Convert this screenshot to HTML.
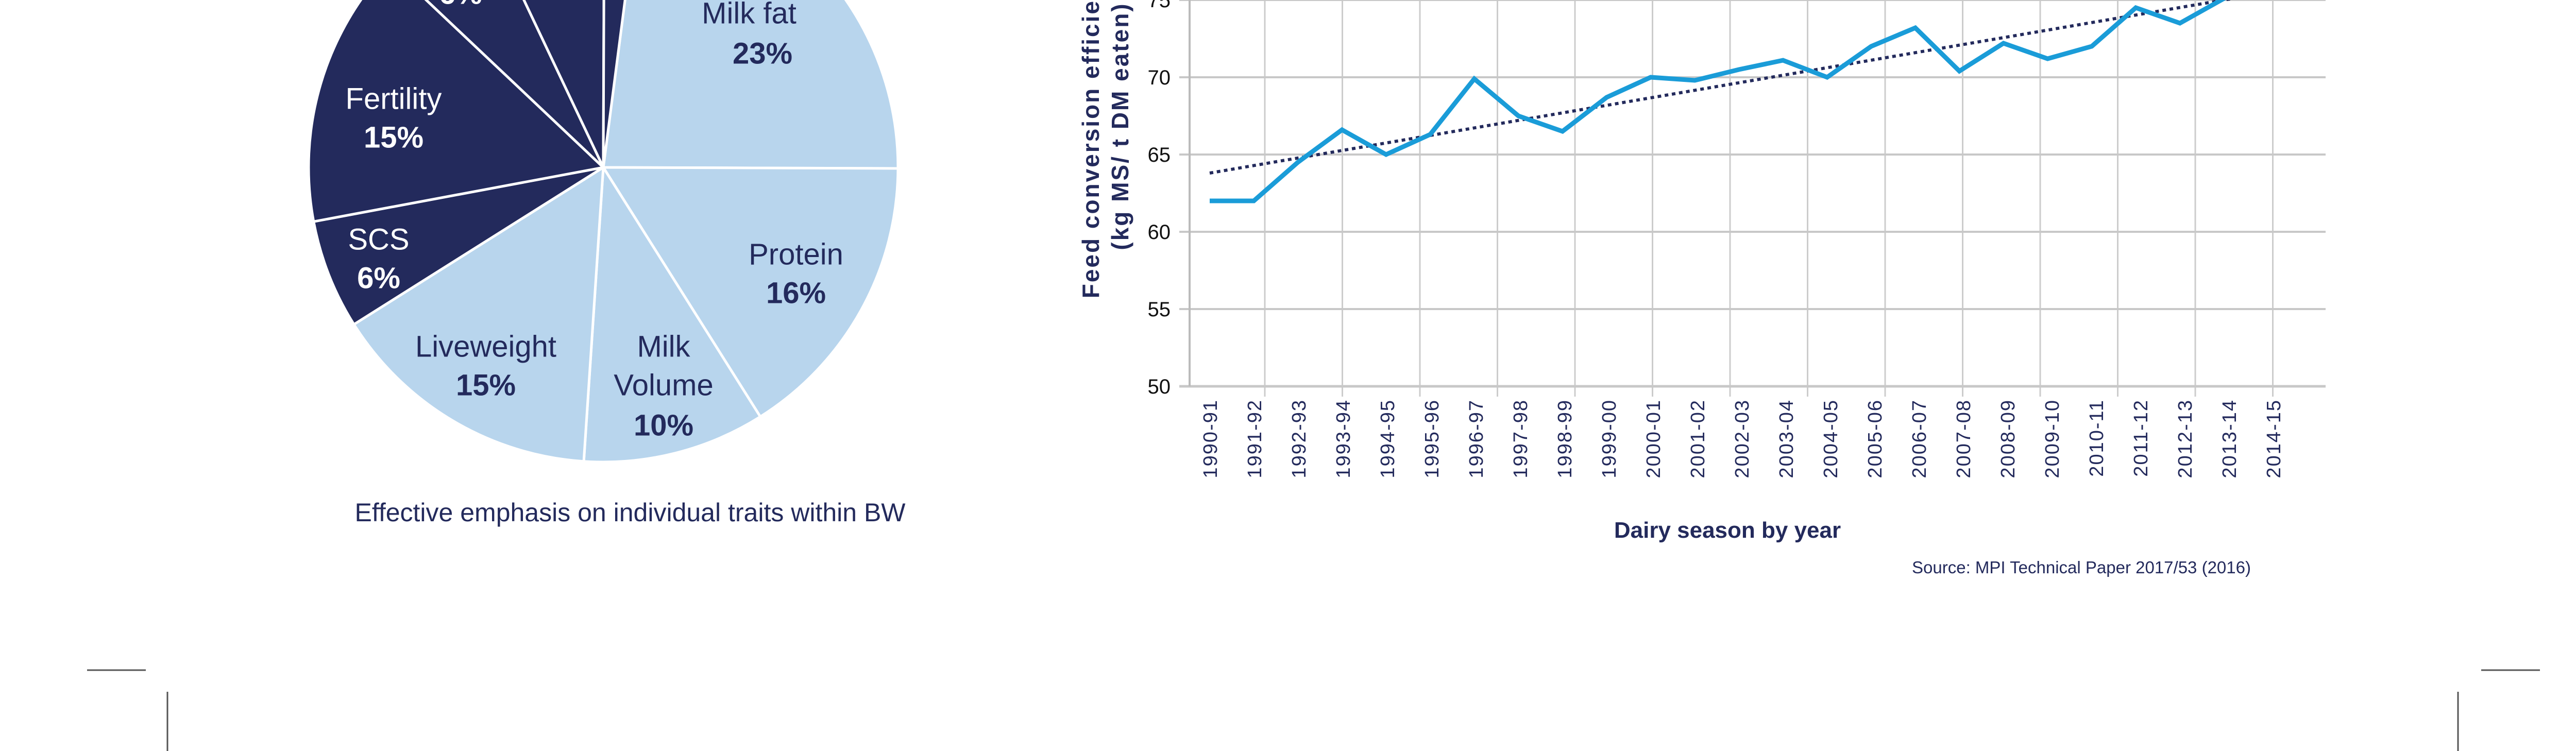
<!DOCTYPE html>
<html><head><meta charset="utf-8"><style>
html,body{margin:0;padding:0;background:#fff}
svg{display:block;font-family:"Liberation Sans",sans-serif}
</style></head><body>
<svg id="root" width="5099" height="1458" viewBox="0 0 5099 1458" xmlns="http://www.w3.org/2000/svg">
<g id="pie"></g>
<text x="1223" y="1012" font-size="50" fill="#232a5c" text-anchor="middle">Effective emphasis on individual traits within BW</text>
<g id="chart"></g>
<g stroke="#555" stroke-width="3">
<line x1="169" y1="1301" x2="283" y2="1301"/>
<line x1="4816" y1="1301" x2="4930" y2="1301"/>
<line x1="325" y1="1343" x2="325" y2="1458"/>
<line x1="4771" y1="1343" x2="4771" y2="1458"/>
</g>
</svg>
<script>
const NS="http://www.w3.org/2000/svg";
// pie data
const sliceNames=["Milk fat","Protein","Milk Volume","Liveweight","SCS","Fertility","Other A","Other B","Other C"];
const sliceValues=[23,16,10,15,6,15,5.9,7.1,2];
const sliceDark=[false,false,false,false,true,true,true,true,true];
// line chart data
const seasons=["1990-91","1991-92","1992-93","1993-94","1994-95","1995-96","1996-97","1997-98","1998-99","1999-00","2000-01","2001-02","2002-03","2003-04","2004-05","2005-06","2006-07","2007-08","2008-09","2009-10","2010-11","2011-12","2012-13","2013-14","2014-15"];
const fce=[62,62,64.5,66.6,65,66.3,69.9,67.5,66.5,68.7,70,69.8,70.5,71.1,70,72,73.2,70.4,72.2,71.2,72,74.5,73.5,75.1,77];
const yTicks=[50,55,60,65,70,75];
const trendStart=63.8, trendSlope=0.487;

function el(tag,attrs,parent){const e=document.createElementNS(NS,tag);for(const k in attrs)e.setAttribute(k,attrs[k]);parent.appendChild(e);return e;}

// PIE
const pie=document.getElementById('pie');
const cx=1171,cy=325,R=572;
const startAngle=7.4;
const total=sliceValues.reduce((a,b)=>a+b,0);
let a=startAngle;
function pt(deg,r){const t=deg*Math.PI/180;return [cx+r*Math.sin(t),cy-r*Math.cos(t)];}
sliceValues.forEach((v,i)=>{
  const a2=a+v/total*360;
  const p1=pt(a,R),p2=pt(a2,R);
  const large=(a2-a)>180?1:0;
  const p=el('path',{d:`M${cx},${cy} L${p1[0]},${p1[1]} A${R},${R} 0 ${large} 1 ${p2[0]},${p2[1]} Z`,fill:sliceDark[i]?'#232a5c':'#b8d5ed',stroke:'#fff','stroke-width':5},pie);
  
  
  a=a2;
});
const pieLabels=[
 ["Milk fat",1454,26,false,"#232a5c"],["23%",1480,104,true,"#232a5c"],
 ["Protein",1545,494,false,"#232a5c"],["16%",1545,569,true,"#232a5c"],
 ["Milk",1288,673,false,"#232a5c"],["Volume",1288,748,false,"#232a5c"],["10%",1288,826,true,"#232a5c"],
 ["Liveweight",943,673,false,"#232a5c"],["15%",943,748,true,"#232a5c"],
 ["SCS",735,465,false,"#fff"],["6%",735,540,true,"#fff"],
 ["Fertility",764,192,false,"#fff"],["15%",764,267,true,"#fff"],
 ["6%",894,-12,true,"#fff"]];
pieLabels.forEach(l=>{
  const t=el('text',{x:l[1],y:l[2],'font-size':58,'text-anchor':'middle','dominant-baseline':'central',fill:l[4],'font-weight':l[3]?'bold':'normal'},pie);
  t.textContent=l[0];
  
  
});

// LINE CHART
const chart=document.getElementById('chart');
const X0=2309,X1=4514,x0=2348,step=85.6;
function xs(i){return x0+i*step;}
function ys(v){return 150+(70-v)*30;}
const clip=el('clipPath',{id:'pc'},chart);
el('rect',{x:X0,y:0,width:X1-X0,height:760},clip);
// vertical grid
for(let gx=X0+146;gx<=X1;gx+=150.5){
  const g=el('line',{x1:gx,y1:0,x2:gx,y2:ys(50)+20,stroke:'#ccc','stroke-width':3},chart);
  
  
}
yTicks.forEach(v=>{
  const g=el('line',{x1:X0-20,y1:ys(v),x2:X1,y2:ys(v),stroke:'#c8c8c8','stroke-width':v===50?5:4},chart);
  
  
  const t=el('text',{x:2272,y:ys(v)+14,'font-size':40,'text-anchor':'end',fill:'#111'},chart);
  t.textContent=v;
  
  
});
el('line',{x1:X0,y1:0,x2:X0,y2:ys(50),stroke:'#bbb','stroke-width':4},chart);
// trend
const tr=el('line',{x1:xs(0),y1:ys(trendStart),x2:xs(seasons.length-1),y2:ys(trendStart+trendSlope*(seasons.length-1)),stroke:'#232a5c','stroke-width':6,'stroke-dasharray':'7 7','clip-path':'url(#pc)'},chart);


// series
const ln=el('polyline',{points:fce.map((v,i)=>xs(i)+','+ys(v)).join(' '),fill:'none',stroke:'#1a9cd8','stroke-width':9,'stroke-linejoin':'miter','clip-path':'url(#pc)'},chart);


// x labels
seasons.forEach((s,i)=>{
  const x=xs(i)+14+i*0.4,y=775;
  const t=el('text',{x:x,y:y,'font-size':38,'text-anchor':'end',fill:'#232a5c','letter-spacing':'2',transform:`rotate(-90 ${x} ${y})`},chart);
  t.textContent=s;
  
  
});
// titles
const t1=el('text',{x:2133,y:245,'font-size':46,'font-weight':'bold','text-anchor':'middle',fill:'#232a5c','letter-spacing':'3',transform:'rotate(-90 2133 245)'},chart);
t1.textContent="Feed conversion efficiency";


const t2=el('text',{x:2190,y:245,'font-size':46,'font-weight':'bold','text-anchor':'middle',fill:'#232a5c','letter-spacing':'3',transform:'rotate(-90 2190 245)'},chart);
t2.textContent="(kg MS/ t DM eaten)";


const xt=el('text',{x:3353,y:1044,'font-size':44,'font-weight':'bold','text-anchor':'middle',fill:'#232a5c'},chart);
xt.textContent="Dairy season by year";


const src=el('text',{x:4040,y:1113,'font-size':33,'text-anchor':'middle',fill:'#232a5c'},chart);
src.textContent="Source: MPI Technical Paper 2017/53 (2016)";


</script>
</body></html>
